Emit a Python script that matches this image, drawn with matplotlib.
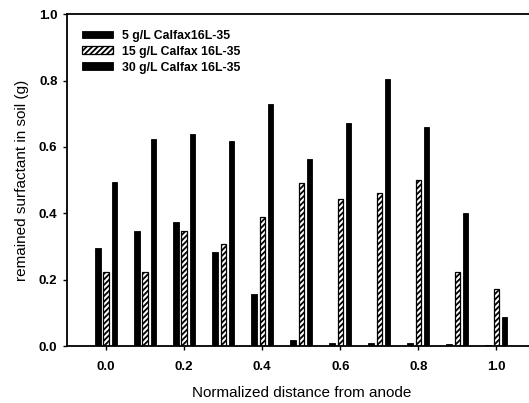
import matplotlib
matplotlib.use("Agg")
import matplotlib.pyplot as plt
import numpy as np

plt.rcParams["font.family"] = ["Liberation Sans", "DejaVu Sans"]
plt.rcParams["hatch.color"] = "black"
plt.rcParams["hatch.linewidth"] = 1.3

# data
distance = [0.0, 0.1, 0.2, 0.3, 0.4, 0.5, 0.6, 0.7, 0.8, 0.9, 1.0]
conc_5 = [0.297, 0.347, 0.375, 0.284, 0.157, 0.019, 0.010, 0.009, 0.009, 0.007, 0.004]
conc_15 = [0.222, 0.222, 0.347, 0.307, 0.390, 0.490, 0.444, 0.460, 0.500, 0.222, 0.172]
conc_30 = [0.495, 0.623, 0.640, 0.618, 0.730, 0.565, 0.673, 0.805, 0.660, 0.400, 0.089]
labels = ["5 g/L Calfax16L-35", "15 g/L Calfax 16L-35", "30 g/L Calfax 16L-35"]

fig = plt.figure(figsize=(5.29, 4.03), dpi=100)
ax = fig.add_axes([0.127, 0.141, 0.885, 0.824])

x = np.array(distance)
w = 0.014
off = 0.021
ax.bar(x - off, conc_5, width=w, color="black", edgecolor="black", linewidth=0.6, label=labels[0])
ax.bar(x, conc_15, width=w, color="white", edgecolor="black", linewidth=0.9,
       hatch="//////", label=labels[1])
ax.bar(x + off, conc_30, width=w, color="black", edgecolor="black", linewidth=0.6, label=labels[2])

ax.set_xlim(-0.1, 1.1)
ax.set_ylim(0, 1.0)
ax.set_xticks([0.0, 0.2, 0.4, 0.6, 0.8, 1.0])
ax.set_yticks([0.0, 0.2, 0.4, 0.6, 0.8, 1.0])
ax.xaxis.set_major_formatter(matplotlib.ticker.FormatStrFormatter("%.1f"))
ax.yaxis.set_major_formatter(matplotlib.ticker.FormatStrFormatter("%.1f"))
ax.tick_params(direction="out", length=3, width=1, labelsize=9.5, pad=8)
ax.tick_params(axis="y", pad=4)
for t in ax.get_xticklabels() + ax.get_yticklabels():
    t.set_fontweight("bold")

for s in ["left", "bottom", "top"]:
    ax.spines[s].set_linewidth(1.3)
ax.spines["right"].set_visible(False)

ax.set_xlabel("Normalized distance from anode", fontsize=11, labelpad=9)
ax.set_ylabel("remained surfactant in soil (g)", fontsize=11, labelpad=7)

leg = ax.legend(loc="upper left", bbox_to_anchor=(0.015, 0.975), frameon=False,
                fontsize=8.8, handlelength=2.6, handleheight=0.6, labelspacing=0.32,
                handletextpad=0.7, borderaxespad=0.2)
for t in leg.get_texts():
    t.set_fontweight("bold")

fig.savefig("out.png", dpi=100)
